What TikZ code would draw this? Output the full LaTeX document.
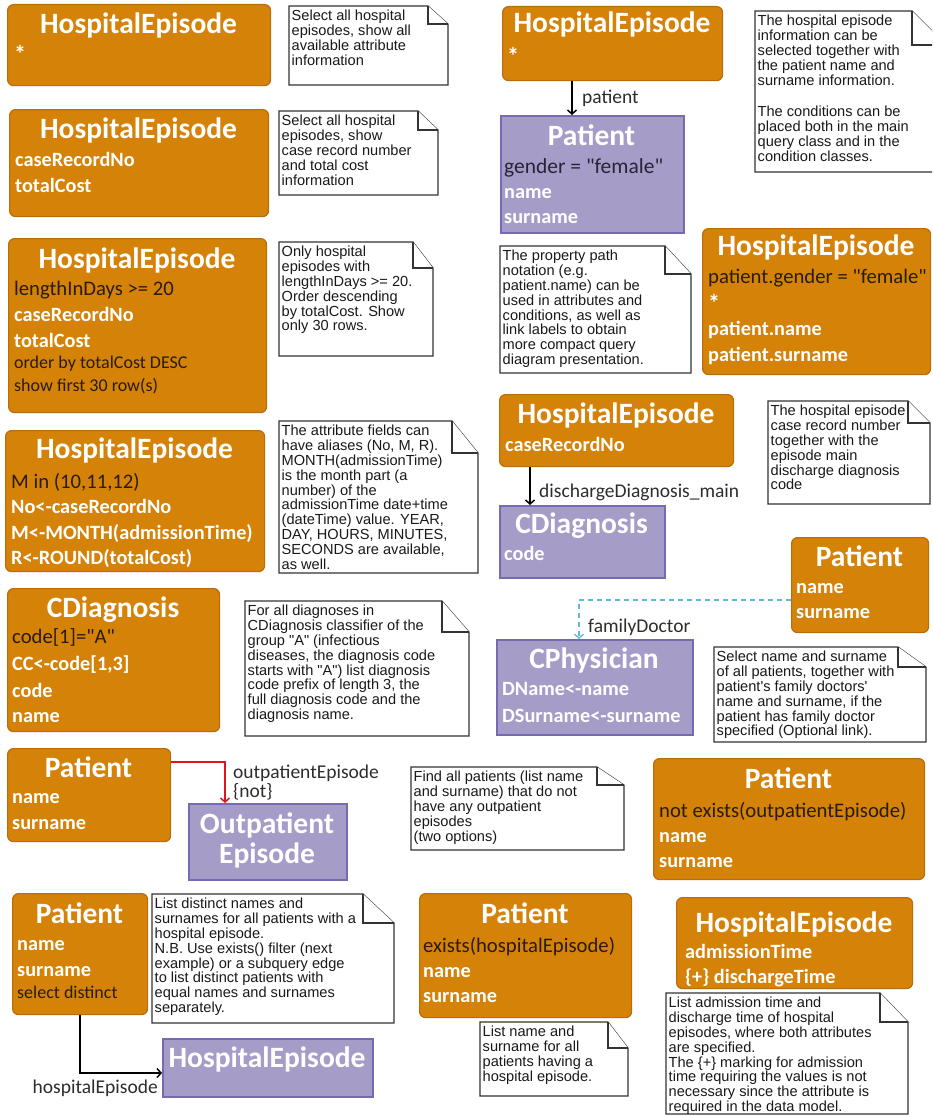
\documentclass[tikz,border=0pt]{standalone}
\usepackage{fontspec}
\setmainfont{Carlito}
\newfontfamily\notefont{Liberation Sans}
\usetikzlibrary{arrows.meta}
\definecolor{orfill}{RGB}{213,130,8}
\definecolor{ordraw}{RGB}{185,108,10}
\definecolor{pufill}{RGB}{166,156,200}
\definecolor{pudraw}{RGB}{118,106,176}
\definecolor{darktxt}{RGB}{40,28,14}
\definecolor{notetxt}{RGB}{25,25,25}
\definecolor{lbltxt}{RGB}{45,45,45}
\definecolor{dashblue}{RGB}{95,185,220}
\definecolor{linkred}{RGB}{225,20,30}
\newcommand{\qq}{\textquotedbl}
\newcommand{\mkbox}[6]{%
  \pgfmathsetmacro{\bxw}{#5-#3}\pgfmathsetmacro{\bxh}{#6-#4}%
  \node[#1, minimum width=\bxw pt, minimum height=\bxh pt] (#2) at (#3,#4) {};}
\newcommand{\mknote}[8]{%
  \draw[notebox] (#2,#3) -- (#4-#6,#3) -- (#4,#3+#7) -- (#4,#5) -- (#2,#5) -- cycle;
  \draw[notebox] (#4-#6,#3) -- (#4-#6,#3+#7) -- (#4,#3+#7);
  \node[notetext] (#1) at (#2,#3) {#8};}
\begin{document}
\begin{tikzpicture}[x=1pt,y=-1pt,
  obox/.style={draw=ordraw, fill=orfill, line width=1.2pt, rounded corners=6pt, anchor=north west, inner sep=0pt},
  pbox/.style={draw=pudraw, fill=pufill, line width=1.8pt, anchor=north west, inner sep=0pt},
  ttl/.style={text=white, font=\fontsize{29.5}{31}\selectfont\bfseries, anchor=base, inner sep=0pt},
  attr/.style={text=white, font=\fontsize{20.3}{22}\selectfont\bfseries, anchor=base west, inner sep=0pt},
  star/.style={text=white, font=\fontsize{24}{24}\selectfont\bfseries, anchor=base west, inner sep=0pt},
  cond/.style={text=darktxt, font=\fontsize{20.7}{22}\selectfont, anchor=base west, inner sep=0pt},
  smalltxt/.style={text=darktxt, font=\fontsize{18}{19}\selectfont, anchor=base west, inner sep=0pt},
  notebox/.style={draw=black!80, fill=white, line width=1.1pt, line join=miter},
  notetext/.style={text=notetxt, font=\notefont\fontsize{14.6}{14.8}\selectfont, align=left, anchor=north west, inner xsep=2.5pt, inner ysep=4.2pt},
  elabel/.style={text=lbltxt, font=\fontsize{19.5}{20}\selectfont, inner sep=0pt},
  conn/.style={line width=2.2pt, -{Straight Barb[length=4pt,width=9pt,line width=1.5pt]}},
  redconn/.style={draw=linkred, line width=2.2pt, -{Straight Barb[length=4pt,width=9pt,line width=1.5pt]}},
  dashconn/.style={draw=dashblue, line width=2.5pt, dash pattern=on 5pt off 4pt, -{Straight Barb[length=4pt,width=9pt,line width=1.3pt]}}
]
\clip (0,0) rectangle (932,1116);
\fill[white] (0,0) rectangle (932,1116);

% ---------- boxes ----------
\mkbox{obox}{b1}{7}{4}{270}{85}
\node[ttl] (b1t) at (138.5,34) {HospitalEpisode};
\node[star] (b1a) at (14,63) {*};

\mkbox{obox}{b2}{9}{109}{268}{216}
\node[ttl] (b2t) at (138.5,138) {HospitalEpisode};
\node[attr] (b2a) at (15,166) {caseRecordNo};
\node[attr] (b2b) at (15,192) {totalCost};

\mkbox{obox}{b3}{502}{6}{722}{80}
\node[ttl] (b3t) at (612,33) {HospitalEpisode};
\node[star] (b3a) at (507,64) {*};

\mkbox{pbox}{p1}{500}{115}{683}{232}
\node[ttl] (p1t) at (591.5,145) {Patient};
\node[cond, text={rgb,255:red,40;green,36;blue,56}, font=\fontsize{21.5}{22}\selectfont] (p1a) at (504,173) {gender = \qq female\qq};
\node[attr] (p1b) at (504,198) {name};
\node[attr] (p1c) at (504,223) {surname};

\mkbox{obox}{b4}{8}{238}{266}{412}
\node[ttl] (b4t) at (137,268) {HospitalEpisode};
\node[cond] (b4a) at (14,295) {lengthInDays >= 20};
\node[attr] (b4b) at (14,321) {caseRecordNo};
\node[attr] (b4c) at (14,347) {totalCost};
\node[smalltxt] (b4d) at (14,368) {order by totalCost DESC};
\node[smalltxt] (b4e) at (14,391) {show first 30 row(s)};

\mkbox{obox}{b5}{5}{430}{264}{571}
\node[ttl] (b5t) at (134.5,458) {HospitalEpisode};
\node[cond] (b5a) at (11,488) {M in (10,11,12)};
\node[attr] (b5b) at (11,513) {No<-caseRecordNo};
\node[attr] (b5c) at (11,539) {M<-MONTH(admissionTime)};
\node[attr] (b5d) at (11,564) {R<-ROUND(totalCost)};

\mkbox{obox}{b6}{702}{228}{930}{374}
\node[ttl] (b6t) at (816,255) {HospitalEpisode};
\node[cond] (b6a) at (708,283) {patient.gender = \qq female\qq};
\node[star] (b6b) at (708,311) {*};
\node[attr] (b6c) at (708,335) {patient.name};
\node[attr] (b6d) at (708,361) {patient.surname};

\mkbox{obox}{b7}{499}{394}{733}{466}
\node[ttl] (b7t) at (616,423) {HospitalEpisode};
\node[attr] (b7a) at (505,451) {caseRecordNo};

\mkbox{pbox}{p2}{499}{505}{664}{577}
\node[ttl] (p2t) at (581.5,533) {CDiagnosis};
\node[attr] (p2a) at (504,560) {code};

\mkbox{obox}{b8}{791}{537}{928}{632}
\node[ttl] (b8t) at (859.5,566) {Patient};
\node[attr] (b8a) at (796,593) {name};
\node[attr] (b8b) at (796,618) {surname};

\mkbox{obox}{b9}{7}{588}{219}{731}
\node[ttl] (b9t) at (113,617) {CDiagnosis};
\node[cond] (b9a) at (12,643) {code[1]=\qq A\qq};
\node[attr] (b9b) at (12,670) {CC<-code[1,3]};
\node[attr] (b9c) at (12,697) {code};
\node[attr] (b9d) at (12,722) {name};

\mkbox{pbox}{p3}{496}{639}{692}{734}
\node[ttl] (p3t) at (594,668) {CPhysician};
\node[attr] (p3a) at (502,695) {DName<-name};
\node[attr] (p3b) at (502,722) {DSurname<-surname};

\mkbox{obox}{b10}{7}{748}{170}{841}
\node[ttl] (b10t) at (88.5,777) {Patient};
\node[attr] (b10a) at (12,803) {name};
\node[attr] (b10b) at (12,829) {surname};

\mkbox{pbox}{p4}{188}{803}{346}{879}
\node[ttl] (p4t) at (267,833) {Outpatient};
\node[ttl] (p4u) at (267,863) {Episode};

\mkbox{obox}{b11}{653}{758}{924}{879}
\node[ttl] (b11t) at (788.5,788) {Patient};
\node[cond] (b11a) at (659,817) {not exists(outpatientEpisode)};
\node[attr] (b11b) at (659,842) {name};
\node[attr] (b11c) at (659,867) {surname};

\mkbox{obox}{b12}{12}{893}{147}{1014}
\node[ttl] (b12t) at (79.5,923) {Patient};
\node[attr] (b12a) at (17,950) {name};
\node[attr] (b12b) at (17,976) {surname};
\node[smalltxt] (b12c) at (17,998) {select distinct};

\mkbox{pbox}{p5}{162}{1038}{372}{1096}
\node[ttl] (p5t) at (267,1067) {HospitalEpisode};

\mkbox{obox}{b13}{419}{893}{631}{1017}
\node[ttl] (b13t) at (525,923) {Patient};
\node[cond] (b13a) at (423,952) {exists(hospitalEpisode)};
\node[attr] (b13b) at (423,977) {name};
\node[attr] (b13c) at (423,1002) {surname};

\mkbox{obox}{b14}{676}{897}{912}{988}
\node[ttl] (b14t) at (794,932) {HospitalEpisode};
\node[attr] (b14a) at (685,958) {admissionTime};
\node[attr] (b14b) at (685,983) {\{+\} dischargeTime};

% ---------- notes ----------
\mknote{n1}{289}{6}{448}{85}{20}{18}{Select all hospital\\episodes, show all\\available attribute\\information}
\mknote{n2}{279}{111}{438}{195}{20}{19}{Select all hospital\\episodes, show\\case record number\\and total cost\\information}
\mknote{n3}{755}{11}{946}{172}{34}{34}{The hospital episode\\information can be\\selected together with\\the patient name and\\surname information.\\[17pt]The conditions can be\\placed both in the main\\query class and in the\\condition classes.}
\mknote{n4}{279}{242}{433}{356}{20}{26}{Only hospital\\episodes with\\lengthInDays >= 20.\\Order descending\\by totalCost. Show\\only 30 rows.}
\mknote{n5}{279}{421}{478}{573}{26}{32}{The attribute fields can\\have aliases (No, M, R).\\MONTH(admissionTime)\\is the month part (a\\number) of the\\admissionTime date+time\\(dateTime) value. YEAR,\\DAY, HOURS, MINUTES,\\SECONDS are available,\\as well.}
\mknote{n6}{500}{246}{691}{373}{26}{28}{The property path\\notation (e.g.\\patient.name) can be\\used in attributes and\\conditions, as well as\\link labels to obtain\\more compact query\\diagram presentation.}
\mknote{n7}{768}{401}{930}{504}{22}{22}{The hospital episode\\case record number\\together with the\\episode main\\discharge diagnosis\\code}
\mknote{n8}{245}{601}{469}{736}{27}{31}{For all diagnoses in\\CDiagnosis classifier of the\\group "A" (infectious\\diseases, the diagnosis code\\starts with "A") list diagnosis\\code prefix of length 3, the\\full diagnosis code and the\\diagnosis name.}
\mknote{n9}{411}{767}{624}{850}{27}{18}{Find all patients (list name\\and surname) that do not\\have any outpatient\\episodes\\(two options)}
\mknote{n10}{714}{647}{926}{742}{28}{20}{Select name and surname\\of all patients, together with\\patient's family doctors'\\name and surname, if the\\patient has family doctor\\specified (Optional link).}
\mknote{n11}{152}{894}{394}{1023}{31}{29}{List distinct names and\\surnames for all patients with a\\hospital episode.\\N.B. Use exists() filter (next\\example) or a subquery edge\\to list distinct patients with\\equal names and surnames\\separately.}
\mknote{n12}{480}{1022}{628}{1096}{20}{26}{List name and\\surname for all\\patients having a\\hospital episode.}
\mknote{n13}{666}{993}{908}{1114}{28}{29}{List admission time and\\discharge time of hospital\\episodes, where both attributes\\are specified.\\The \{+\} marking for admission\\time requiring the values is not\\necessary since the attribute is\\required in the data model.}

% ---------- connectors ----------
\coordinate (c1) at (572,0);
\draw[conn] (b3.south -| c1) -- (p1.north -| c1);
\node[elabel, anchor=base west] (l1) at (582,103) {patient};

\coordinate (c2) at (530,0);
\draw[conn] (b7.south -| c2) -- (p2.north -| c2);
\node[elabel, anchor=base west] (l2) at (539,497) {dischargeDiagnosis\_main};

\coordinate (c3) at (579,600);
\draw[dashconn] (b8.west |- c3) -| (p3.north -| c3);
\node[elabel, anchor=base west] (l3) at (588,632) {familyDoctor};

\coordinate (c4) at (225,762);
\draw[redconn] (b10.east |- c4) -| (p4.north -| c4);
\node[elabel, anchor=base west] (l4) at (233,778) {outpatientEpisode};
\node[elabel, anchor=base west] (l4b) at (233,797) {\{not\}};

\coordinate (c5) at (80,1073);
\draw[conn] (b12.south -| c5) |- (p5.west |- c5);
\node[elabel, anchor=base east] (l5) at (158,1093) {hospitalEpisode};
\end{tikzpicture}
\end{document}
